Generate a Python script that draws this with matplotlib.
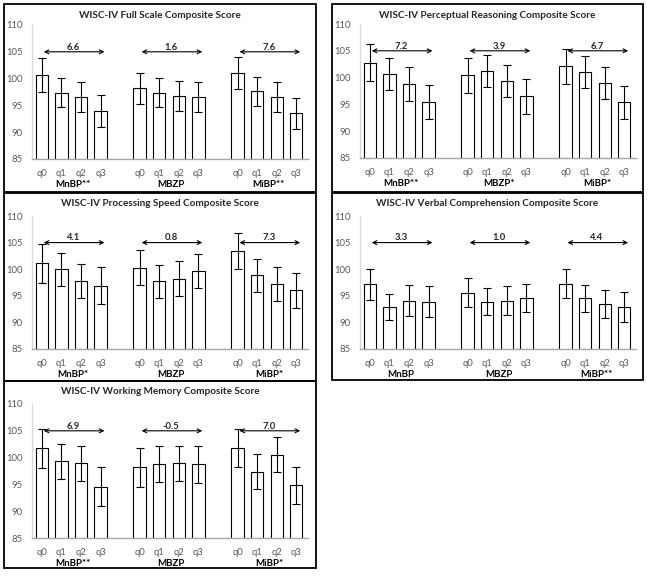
import matplotlib
matplotlib.use("Agg")
import matplotlib.pyplot as plt
from matplotlib.patches import Rectangle
import numpy as np

plt.rcParams['font.family'] = ['Lato', 'DejaVu Sans']

# ---------------- data ----------------
titles = [
    "WISC-IV Full Scale Composite Score",
    "WISC-IV Perceptual Reasoning Composite Score",
    "WISC-IV Processing Speed Composite Score",
    "WISC-IV Verbal Comprehension Composite Score",
    "WISC-IV Working Memory Composite Score",
]
quartiles = ["q0", "q1", "q2", "q3"]
group_labels = [
    ["MnBP**", "MBZP", "MiBP**"],
    ["MnBP**", "MBZP*", "MiBP*"],
    ["MnBP*", "MBZP", "MiBP*"],
    ["MnBP", "MBZP", "MiBP**"],
    ["MnBP**", "MBZP", "MiBP*"],
]
diff_labels = [
    ["6.6", "1.6", "7.6"],
    ["7.2", "3.9", "6.7"],
    ["4.1", "0.8", "7.3"],
    ["3.3", "1.0", "4.4"],
    ["6.9", "-0.5", "7.0"],
]

# means per panel: [MnBP q0..q3, MBZP q0..q3, MiBP q0..q3]
full_scale_mean = [100.7, 97.4, 96.6, 94.0, 98.2, 97.4, 96.8, 96.6, 101.1, 97.6, 96.6, 93.5]
full_scale_err = [3.2, 2.7, 2.8, 3.0, 2.9, 2.7, 2.8, 2.85, 2.95, 2.7, 2.75, 2.95]

perceptual_mean = [102.8, 100.6, 98.8, 95.4, 100.4, 101.2, 99.4, 96.5, 102.1, 101.1, 99.0, 95.4]
perceptual_err = [3.4, 3.0, 3.1, 3.2, 3.25, 3.0, 3.0, 3.2, 3.25, 3.0, 3.05, 3.1]

speed_mean = [101.1, 100.0, 97.8, 96.9, 100.3, 97.7, 98.25, 99.6, 103.4, 98.9, 97.2, 96.0]
speed_err = [3.7, 3.1, 3.25, 3.45, 3.35, 3.1, 3.2, 3.2, 3.4, 3.1, 3.15, 3.35]

verbal_mean = [97.2, 92.9, 94.1, 93.9, 95.6, 93.9, 94.1, 94.6, 97.25, 94.5, 93.5, 92.9]
verbal_err = [2.9, 2.5, 2.85, 2.9, 2.7, 2.6, 2.8, 2.7, 2.75, 2.6, 2.6, 2.75]

memory_mean = [101.7, 99.3, 98.9, 94.6, 98.2, 98.8, 98.9, 98.75, 101.8, 97.4, 100.55, 94.8]
memory_err = [3.6, 3.2, 3.3, 3.6, 3.6, 3.3, 3.3, 3.45, 3.55, 3.2, 3.25, 3.5]

means = [full_scale_mean, perceptual_mean, speed_mean, verbal_mean, memory_mean]
errs = [full_scale_err, perceptual_err, speed_err, verbal_err, memory_err]

y_ticks = [85, 90, 95, 100, 105, 110]
arrow_level = 105

# ---------------- layout (pixels) ----------------
W, H = 648, 588
fig = plt.figure(figsize=(W / 100, H / 100), dpi=100)
fig.patch.set_facecolor("white")

def fx(x):
    return x / W

def fy(y):
    return 1 - y / H

panel_boxes = [(4, 4, 316, 192), (332, 4, 643, 192), (4, 193, 316, 381),
               (332, 193, 643, 380), (4, 381, 316, 568)]
axes_boxes = [(32, 25, 308, 159), (360, 24, 636, 158), (32, 216, 308, 349),
              (360, 216, 636, 349), (32, 404, 308, 538)]

for (x0, y0, x1, y1) in panel_boxes:
    fig.patches.append(Rectangle((fx(x0), fy(y1)), fx(x1) - fx(x0), fy(y0) - fy(y1),
                                 transform=fig.transFigure, fill=False,
                                 edgecolor="black", linewidth=1.3, zorder=10))

for i in range(5):
    (x0, y0, x1, y1) = axes_boxes[i]
    px0, py0 = panel_boxes[i][0], panel_boxes[i][1]
    ax = fig.add_axes([fx(x0), fy(y1), fx(x1) - fx(x0), fy(y0) - fy(y1)])
    ax.set_facecolor("none")
    pos = [g * 5 + q for g in range(3) for q in range(4)]
    ax.bar(pos, means[i], width=0.63, bottom=0, color="white", edgecolor="black",
           linewidth=0.8, zorder=2)
    ax.errorbar(pos, means[i], yerr=errs[i], fmt="none", ecolor="black",
                elinewidth=0.8, capsize=3.2, capthick=0.8, zorder=3)
    ax.set_ylim(85, 110)
    ax.set_xlim(-0.5, 13.6)
    ax.set_yticks(y_ticks)
    ax.set_yticklabels([str(t) for t in y_ticks])
    ax.set_xticks(pos)
    ax.set_xticklabels(quartiles * 3)
    ax.tick_params(axis="both", length=0, labelsize=6.8, colors="#595959")
    ax.tick_params(axis="x", pad=7)
    ax.tick_params(axis="y", pad=7)
    for s in ["top", "right"]:
        ax.spines[s].set_visible(False)
    ax.spines["left"].set_color("#d9d9d9")
    ax.spines["left"].set_linewidth(1.0)
    ax.spines["bottom"].set_color("#a6a6a6")
    ax.spines["bottom"].set_linewidth(1.0)

    for g in range(3):
        base = g * 5
        ax.annotate("", xy=(base + 3.2, arrow_level), xytext=(base + 0.1, arrow_level),
                    arrowprops=dict(arrowstyle="<->", lw=0.8, color="black",
                                    shrinkA=0, shrinkB=0, mutation_scale=7),
                    zorder=4)
        ax.text(base + 1.6, arrow_level + 0.05, diff_labels[i][g], ha="center",
                va="bottom", fontsize=6.8, fontweight="bold", color="#262626", zorder=5)
        ax.annotate(group_labels[i][g], xy=(base + 1.6, 85), xycoords="data",
                    xytext=(0, -18.5), textcoords="offset points", ha="center",
                    va="center", fontsize=7, fontweight="bold", color="black",
                    annotation_clip=False)

    pcx = (panel_boxes[i][0] + panel_boxes[i][2]) / 2
    fig.text(fx(pcx), fy(py0 + 11), titles[i], ha="center", va="center",
             fontsize=7.2, fontweight="bold", color="#262626")

fig.savefig("out.png", dpi=100, facecolor="white")
